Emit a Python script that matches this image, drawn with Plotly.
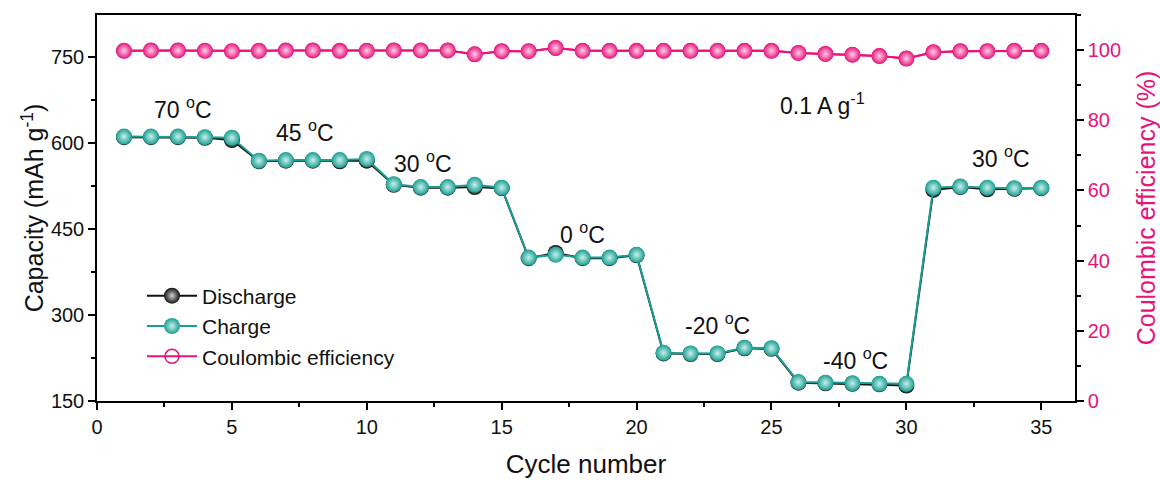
import plotly.graph_objects as go

cycles = list(range(1, 36))

charge = [611, 611, 611, 610, 609,
          569, 570, 570, 570, 572,
          528, 523, 523, 527, 522,
          400, 405, 400, 400, 405,
          234, 233, 233, 243, 242,
          183, 182, 181, 180, 180,
          522, 524, 522, 521, 522]

discharge = [610, 610, 610, 609, 605,
             568, 569, 569, 568, 569,
             527, 522, 522, 523, 521,
             399, 408, 399, 399, 404,
             233, 232, 232, 242, 241,
             182, 181, 180, 179, 177,
             518, 523, 519, 520, 521]

efficiency = [99.8, 99.9, 99.9, 99.8, 99.7,
              99.8, 99.9, 99.9, 99.8, 99.8,
              99.9, 99.9, 99.9, 98.8, 99.7,
              99.7, 100.6, 99.8, 99.8, 99.8,
              99.8, 99.8, 99.8, 99.8, 99.8,
              99.2, 98.9, 98.7, 98.3, 97.6,
              99.4, 99.7, 99.7, 99.8, 99.8]

labels = ["70 <sup>o</sup>C", "45 <sup>o</sup>C", "30 <sup>o</sup>C", "0 <sup>o</sup>C",
          "-20 <sup>o</sup>C", "-40 <sup>o</sup>C", "30 <sup>o</sup>C", "0.1 A g<sup>-1</sup>"]
label_x = [3.2, 7.7, 12.1, 18.0, 23.0, 28.1, 33.5, 26.9]
label_y = [660, 620, 567, 443, 285, 223, 576, 668]

BLACK = "#111111"
TEAL = "#1a9e92"
PINK = "#e8127c"
FONT = "Liberation Sans, Arial, sans-serif"

fig = go.Figure()

fig.add_trace(go.Scatter(
    x=cycles, y=discharge, name="Discharge", mode="lines+markers",
    line=dict(color=BLACK, width=2),
    marker=dict(size=16, color=BLACK, line=dict(width=0),
                gradient=dict(type="radial", color="#cfcfcf")),
))
fig.add_trace(go.Scatter(
    x=cycles, y=charge, name="Charge", mode="lines+markers",
    line=dict(color=TEAL, width=2),
    marker=dict(size=16, color=TEAL, line=dict(width=0),
                gradient=dict(type="radial", color="#c8f0ea")),
))
# open-circle copy of the efficiency series: supplies the legend symbol,
# sits underneath the shaded spheres drawn next
fig.add_trace(go.Scatter(
    x=cycles, y=efficiency, name="Coulombic efficiency", mode="lines+markers",
    yaxis="y2",
    line=dict(color=PINK, width=2),
    marker=dict(size=14, color=PINK, symbol="circle-open", line=dict(color=PINK, width=1.5)),
))
fig.add_trace(go.Scatter(
    x=cycles, y=efficiency, name="Coulombic efficiency", mode="lines+markers",
    yaxis="y2", showlegend=False,
    line=dict(color=PINK, width=2),
    marker=dict(size=16, color=PINK, line=dict(width=0),
                gradient=dict(type="radial", color="#ffd0e6")),
))

for t, xv, yv in zip(labels, label_x, label_y):
    fig.add_annotation(x=xv, y=yv, text=t, showarrow=False,
                       font=dict(family=FONT, size=23, color="#111111"))

axis_common = dict(
    showline=True, linecolor="black", linewidth=1.5, showgrid=False, zeroline=False,
    ticks="outside", ticklen=7, tickwidth=1.5, tickcolor="black", automargin=False,
)

fig.update_layout(
    width=1160, height=480,
    margin=dict(l=97, r=85, t=15, b=79),
    paper_bgcolor="white", plot_bgcolor="white",
    font=dict(family=FONT, size=20, color="#111111"),
    xaxis=dict(
        **axis_common, range=[0, 36.25], dtick=5, tick0=0, mirror=True,
        minor=dict(ticks="outside", ticklen=4, tickwidth=1.5, dtick=2.5, tickcolor="black"),
        title=dict(text="Cycle number", font=dict(size=26), standoff=18),
        tickfont=dict(size=20),
    ),
    yaxis=dict(
        **axis_common, range=[150, 823], dtick=150, tick0=150,
        minor=dict(ticks="outside", ticklen=4, tickwidth=1.5, dtick=75, tickcolor="black"),
        title=dict(text="Capacity (mAh g<sup>-1</sup>)", font=dict(size=25), standoff=0),
        tickfont=dict(size=20),
    ),
    yaxis2=dict(
        **axis_common, range=[0, 110], dtick=20, tick0=0, overlaying="y", side="right",
        minor=dict(ticks="outside", ticklen=4, tickwidth=1.5, dtick=10, tickcolor="black"),
        title=dict(text="Coulombic efficiency (%)", font=dict(size=25, color=PINK), standoff=18),
        tickfont=dict(size=20, color=PINK),
    ),
    legend=dict(
        x=0.046, y=0.325, xanchor="left", yanchor="top",
        bgcolor="rgba(0,0,0,0)", font=dict(size=21),
        itemwidth=50, tracegroupgap=0,
    ),
)

fig.write_html("out.html")
